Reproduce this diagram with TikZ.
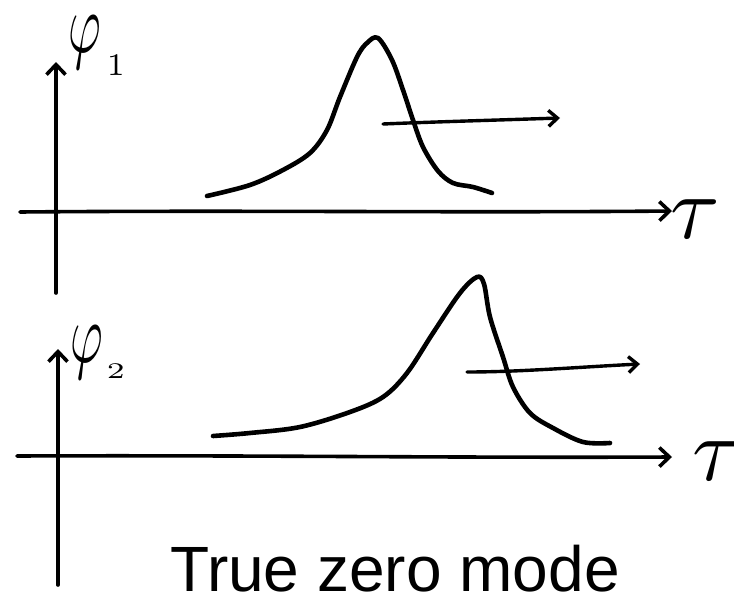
\documentclass[tikz,border=0pt]{standalone}
\usepackage{fontspec}
\setmainfont{Liberation Sans}
\usetikzlibrary{arrows.meta}
\begin{document}
\begin{tikzpicture}[x=1pt,y=-1pt,
  ink/.style={line width=4.6pt,line cap=round,line join=round},
  axis/.style={ink,line width=3.6pt,-{Straight Barb[length=10pt,width=19pt]}},
  move/.style={ink,line width=3.4pt,-{Straight Barb[length=9pt,width=16pt]}},
  lbl/.style={inner sep=0pt,anchor=base west}]
\useasboundingbox (0,0) rectangle (734,605);
% coordinates of axes
\coordinate (v1b) at (56,293);
\coordinate (v1t) at (56,62);
\coordinate (h1l) at (20,212);
\coordinate (h1r) at (672,211);
\coordinate (v2b) at (58,585);
\coordinate (v2t) at (58,349);
\coordinate (h2l) at (17,456);
\coordinate (h2r) at (672,457);
\coordinate (a1s) at (383,124);
\coordinate (a1e) at (560,118);
\coordinate (a2s) at (467,372);
\coordinate (a2e) at (640,364);
% axes
\draw[axis] (v1b) -- (v1t);
\draw[axis] (h1l) .. controls (250,210) and (450,213) .. (h1r);
\draw[axis] (v2b) -- (v2t);
\draw[axis] (h2l) .. controls (250,455) and (450,458) .. (h2r);
% labels
\node[lbl] (phi1) at (68,52) {\scalebox{5}[8.5]{$\varphi$}\hspace{6pt}\raisebox{-24pt}{\scalebox{4.5}{$\scriptstyle 1$}}};
\node[lbl] (phi2) at (70,362) {\scalebox{5}[8.5]{$\varphi$}\hspace{4pt}\raisebox{-16pt}{\scalebox{4.5}[3.2]{$\scriptstyle 2$}}};
\node[lbl] (tau1) at (670,238) {\scalebox{9}{$\tau$}};
\node[lbl] (tau2) at (692,480) {\scalebox{9}{$\tau$}};
% curves
\draw[ink] plot[smooth,tension=0.55] coordinates {(207,196) (250,185) (283,170) (310,153) (327,130) (340,97) (357,57) (367,43) (378,38) (392,60) (403,90) (413,120) (423,147) (438,171) (453,183) (473,187) (492,193)};
\draw[ink] plot[smooth,tension=0.55] coordinates {(213,436) (250,433) (300,427) (350,412) (383,397) (407,373) (433,333) (460,293) (477,277) (484,284) (490,317) (503,357) (513,387) (530,413) (553,428) (583,442) (610,443)};
% motion arrows
\draw[move] (a1s) .. controls (430,122) and (500,120) .. (a1e);
\draw[move] (a2s) .. controls (520,372) and (580,367) .. (a2e);
% caption
\node[inner sep=0pt,anchor=base,font=\fontsize{64}{70}\selectfont] (cap) at (395,591) {True zero mode};
\end{tikzpicture}
\end{document}
